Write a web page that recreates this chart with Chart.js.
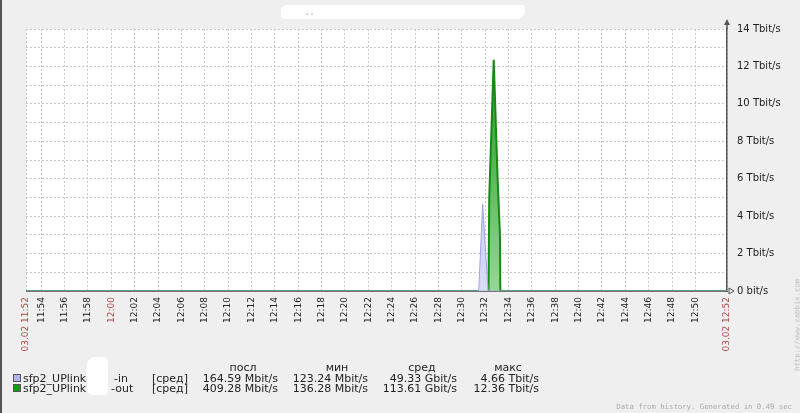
<!DOCTYPE html>
<html>
<head>
<meta charset="utf-8">
<script src="https://cdn.jsdelivr.net/npm/chart.js@4.4.0/dist/chart.umd.min.js"></script>
<style>
  body { margin: 0; background: #efefef; }
  #wrap { position: relative; width: 800px; height: 413px; background: #efefef; overflow: hidden;
          font-family: "DejaVu Sans", sans-serif; color: #222; }
  #wrap canvas { position: absolute; left: 0; top: 0; }
  .t { position: absolute; font-size: 11px; white-space: nowrap; line-height: 11px; }
  .r { text-align: right; }
  .c { text-align: center; }
  .sq { position: absolute; width: 6px; height: 6px; border: 1px solid #555; }
  .blob { position: absolute; background: #fff; }
  #frame { position: absolute; left: 0; top: 0; width: 2px; height: 413px; background: #555; }
  #foot { position: absolute; right: 8px; top: 402px; font: 7.3px "DejaVu Sans Mono", monospace; color: #aaa; }
  #url { position: absolute; left: 797px; top: 325px; font: 7.3px "DejaVu Sans Mono", monospace; color: #bbb;
         transform: translate(-50%, -50%) rotate(-90deg); white-space: nowrap; }
</style>
</head>
<body>
<div id="wrap">
  <canvas id="myChart" width="800" height="413"></canvas>
  <div id="frame"></div>
  <div class="blob" style="left:281px;top:5px;width:244px;height:14px;border-radius:6px 3px 8px 4px;"></div>
  <div class="t" style="left:306px;top:9px;font-size:7px;color:#666;">- -</div>

  <div class="t c" style="left:213px;top:362px;width:60px;">посл</div>
  <div class="t c" style="left:307px;top:362px;width:60px;">мин</div>
  <div class="t c" style="left:392px;top:362px;width:60px;">сред</div>
  <div class="t c" style="left:478px;top:362px;width:60px;">макс</div>

  <div class="sq" style="left:13px;top:374px;background:#b4b4f0;"></div>
  <div class="t" style="left:23px;top:373px;">sfp2_UPlink-</div>
  <div class="t" style="left:114px;top:373px;">-in</div>
  <div class="t" style="left:152px;top:373px;">[сред]</div>
  <div class="t r" id="r1c1" style="left:178px;top:373px;width:100px;"></div>
  <div class="t r" id="r1c2" style="left:268px;top:373px;width:100px;"></div>
  <div class="t r" id="r1c3" style="left:357px;top:373px;width:100px;"></div>
  <div class="t r" id="r1c4" style="left:439px;top:373px;width:100px;"></div>

  <div class="sq" style="left:13px;top:384px;background:#10a010;"></div>
  <div class="t" style="left:23px;top:383px;">sfp2_UPlink</div>
  <div class="t" style="left:111px;top:383px;">-out</div>
  <div class="t" style="left:152px;top:383px;">[сред]</div>
  <div class="t r" id="r2c1" style="left:178px;top:383px;width:100px;"></div>
  <div class="t r" id="r2c2" style="left:268px;top:383px;width:100px;"></div>
  <div class="t r" id="r2c3" style="left:357px;top:383px;width:100px;"></div>
  <div class="t r" id="r2c4" style="left:439px;top:383px;width:100px;"></div>

  <div class="blob" style="left:87px;top:357px;width:21px;height:38px;border-radius:8px 5px 4px 6px;"></div>

  <div id="foot">Data from history. Generated in 0.49 sec</div>
  <div id="url">http://www.zabbix.com</div>
</div>
<script>
// time range of the graph
const rangeStart = "11:52:42";
const rangeEnd = "12:52:42";
const edgeLabels = ["03.02 11:52", "03.02 12:52"];
const tickLabels = ["11:54", "11:56", "11:58", "12:00", "12:02", "12:04", "12:06", "12:08",
  "12:10", "12:12", "12:14", "12:16", "12:18", "12:20", "12:22", "12:24", "12:26", "12:28",
  "12:30", "12:32", "12:34", "12:36", "12:38", "12:40", "12:42", "12:44", "12:46", "12:48", "12:50"];

// values in Tbit/s
const inTimes = ["11:52:42", "12:31:27", "12:31:47", "12:32:15", "12:52:42"];
const inValues = [0.00016, 0.00016, 4.66, 0.00016, 0.00016];
const outTimes = ["11:52:42", "12:32:17", "12:32:21", "12:32:44", "12:33:04", "12:33:16", "12:33:18", "12:52:42"];
const outValues = [0.0004, 0.0004, 5.0, 12.36, 6.0, 3.0, 0.0004, 0.0004];

// legend table
const seriesNames = ["in", "out"];
const lastValues = ["164.59 Mbit/s", "409.28 Mbit/s"];
const minValues = ["123.24 Mbit/s", "136.28 Mbit/s"];
const avgValues = ["49.33 Gbit/s", "113.61 Gbit/s"];
const maxValues = ["4.66 Tbit/s", "12.36 Tbit/s"];

function toMin(s) {
  const p = s.split(":").map(Number);
  return (p[0] - 12) * 60 + p[1] + (p[2] || 0) / 60;
}

const xMin = toMin(rangeStart);
const xMax = toMin(rangeEnd);
const allTicks = [xMin].concat(tickLabels.map(toMin), [xMax]);
const allTickText = [edgeLabels[0]].concat(tickLabels, [edgeLabels[1]]);

for (let i = 0; i < seriesNames.length; i++) {
  document.getElementById("r" + (i + 1) + "c1").textContent = lastValues[i];
  document.getElementById("r" + (i + 1) + "c2").textContent = minValues[i];
  document.getElementById("r" + (i + 1) + "c3").textContent = avgValues[i];
  document.getElementById("r" + (i + 1) + "c4").textContent = maxValues[i];
}

function grad(ctx, top, bottom) {
  const area = ctx.chart.chartArea;
  if (!area) return bottom;
  const g = ctx.chart.ctx.createLinearGradient(0, area.top, 0, area.bottom);
  g.addColorStop(0, top);
  g.addColorStop(1, bottom);
  return g;
}

const plotBg = {
  id: "plotBg",
  beforeDraw(chart) {
    const a = chart.chartArea;
    const c = chart.ctx;
    c.save();
    c.fillStyle = "#ffffff";
    c.fillRect(a.left, a.top, a.right - a.left, a.bottom - a.top);
    c.restore();
  },
  afterDraw(chart) {
    const a = chart.chartArea;
    const c = chart.ctx;
    c.save();
    c.strokeStyle = "#555";
    c.fillStyle = "#555";
    c.lineWidth = 1.5;
    // y axis up arrow
    c.beginPath();
    c.moveTo(a.right, a.top);
    c.lineTo(a.right, a.top - 8);
    c.stroke();
    c.beginPath();
    c.moveTo(a.right, a.top - 10);
    c.lineTo(a.right - 3, a.top - 4);
    c.lineTo(a.right + 3, a.top - 4);
    c.closePath();
    c.fill();
    // x axis right arrow
    c.lineWidth = 1;
    c.beginPath();
    c.moveTo(a.right + 2, a.bottom - 3);
    c.lineTo(a.right + 7, a.bottom);
    c.lineTo(a.right + 2, a.bottom + 3);
    c.closePath();
    c.stroke();
    c.restore();
  },
};

const ctx = document.getElementById("myChart").getContext("2d");
window.chart = new Chart(ctx, {
  type: "line",
  data: {
    datasets: [
      {
        label: "sfp2_UPlink-in",
        data: inTimes.map((t, i) => ({ x: toMin(t), y: inValues[i] })),
        borderColor: "#a4a4e4",
        borderWidth: 1,
        backgroundColor: (c) => grad(c, "rgba(165,165,238,0.9)", "rgba(215,215,250,0.9)"),
        fill: "origin",
        pointRadius: 0,
        tension: 0,
      },
      {
        label: "sfp2_UPlink-out",
        data: outTimes.map((t, i) => ({ x: toMin(t), y: outValues[i] })),
        borderColor: "#168a16",
        borderWidth: 2,
        backgroundColor: (c) => grad(c, "rgba(15,150,15,1)", "rgba(150,215,150,1)"),
        fill: "origin",
        pointRadius: 0,
        tension: 0,
      },
    ],
  },
  options: {
    responsive: false,
    animation: false,
    layout: { padding: { left: 26, top: 29, right: 0, bottom: 0 } },
    plugins: { legend: { display: false }, tooltip: { enabled: false } },
    scales: {
      x: {
        type: "linear",
        min: xMin,
        max: xMax,
        afterBuildTicks: (scale) => {
          scale.ticks = allTicks.map((v) => ({ value: v }));
        },
        afterFit: (scale) => {
          scale.height = 122;
        },
        grid: { color: "#c8c8c8", drawTicks: false },
        border: { display: true, color: "#777", width: 1, dash: [2, 2] },
        ticks: {
          autoSkip: false,
          maxRotation: 90,
          minRotation: 90,
          padding: 6,
          font: { family: "DejaVu Sans", size: 9 },
          color: (c) => (c.index === 0 || c.index === allTicks.length - 1 || c.tick.value === 0 ? "#b04848" : "#222"),
          callback: (v, i) => allTickText[i],
        },
      },
      y: {
        position: "right",
        min: 0,
        max: 14,
        afterFit: (scale) => {
          scale.width = 73;
        },
        grid: { color: "#c8c8c8", drawTicks: false },
        border: { display: true, color: "#555", width: 1.5, dash: [2, 2] },
        ticks: {
          stepSize: 1,
          padding: 10,
          font: { family: "DejaVu Sans", size: 10 },
          color: "#222",
          callback: (v) => (v === 0 ? "0 bit/s" : v % 2 === 0 ? v + " Tbit/s" : ""),
        },
      },
    },
  },
  plugins: [plotBg],
});
</script>
</body>
</html>
